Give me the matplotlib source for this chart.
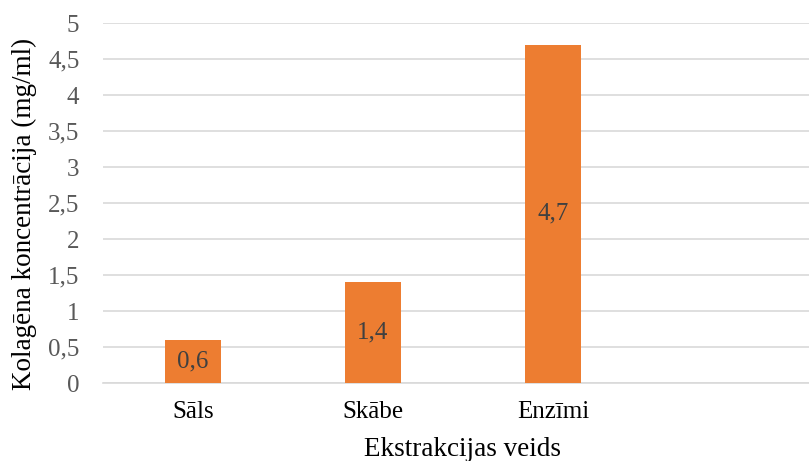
import matplotlib.pyplot as plt
from matplotlib.ticker import FuncFormatter

# dati
metodes = ["Sāls", "Skābe", "Enzīmi"]
koncentracija = [0.6, 1.4, 4.7]
y_ticks = [0, 0.5, 1, 1.5, 2, 2.5, 3, 3.5, 4, 4.5, 5]

plt.rcParams['font.family'] = ['Liberation Serif', 'DejaVu Serif']

fig = plt.figure(figsize=(8.09, 4.61), dpi=100)
# plot area runs past the right edge of the canvas (4th empty slot)
ax = fig.add_axes([103 / 809, 1 - 383 / 461, 720 / 809, 360 / 461])

x = list(range(len(metodes)))
bars = ax.bar(x, koncentracija, width=0.315, color='#ED7D31', zorder=3)

for b, v in zip(bars, koncentracija):
    ax.text(b.get_x() + b.get_width() / 2, v / 2, f"{v:.1f}".replace('.', ','),
            ha='center', va='center', fontsize=18, color='#404040', zorder=4)

ax.set_xlim(-0.5, 3.5)
ax.set_ylim(0, 5)
ax.set_yticks(y_ticks)
ax.yaxis.set_major_formatter(FuncFormatter(lambda v, p: f"{v:g}".replace('.', ',')))
ax.set_xticks(x)
ax.set_xticklabels(metodes)

ax.grid(axis='y', color='#D9D9D9', linewidth=1.2, zorder=0)
for s in ['top', 'right', 'left']:
    ax.spines[s].set_visible(False)
ax.spines['bottom'].set_color('#D9D9D9')
ax.spines['bottom'].set_linewidth(1.2)

ax.tick_params(axis='y', length=0, labelsize=18, labelcolor='#595959', pad=17)
ax.tick_params(axis='x', length=0, labelsize=18, labelcolor='#000000', pad=13)

ax.set_ylabel("Kolagēna koncentrācija (mg/ml)", fontsize=19.5, color='#000000')
ax.yaxis.set_label_coords(-0.092, 0.47)
ax.set_xlabel("Ekstrakcijas veids", fontsize=19.5, color='#000000', labelpad=10)

fig.savefig('out.png', dpi=100)
